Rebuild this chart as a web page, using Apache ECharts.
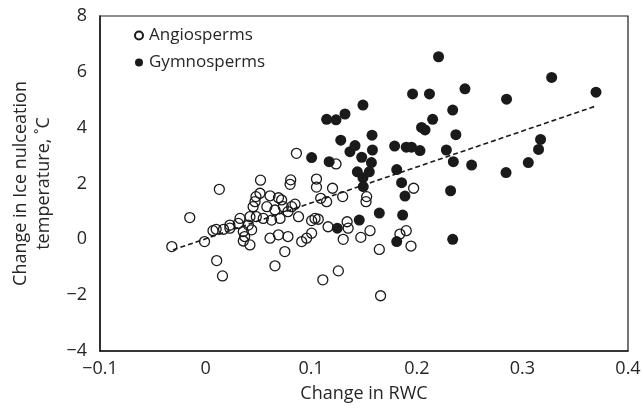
<!DOCTYPE html>
<html><head><meta charset="utf-8">
<script src="https://cdn.jsdelivr.net/npm/echarts@6/dist/echarts.min.js"></script>
<style>html,body{margin:0;padding:0;background:#fff}#c{width:643px;height:408px}</style>
</head><body><div id="c"></div>
<script>
const angioX = [-0.032,-0.015,0.013,0.0105,0.016,-0.001,0.007,0.010,0.017,0.023,
  0.052,0.0806,0.080,0.105,0.105,0.0515,0.0477,0.061,0.069,0.072,
  0.0468,0.045,0.058,0.0736,0.0815,0.0847,0.0657,0.078,0.088,0.0705,
  0.0625,0.0546,0.048,0.042,0.0326,0.031,0.0405,0.0436,0.0357,0.037,
  0.0357,0.042,0.061,0.069,0.078,0.091,0.0957,0.1004,0.075,0.0657,0.023,
  0.086,0.1235,0.1202,0.109,0.1146,0.1298,0.1525,0.1519,0.197,
  0.1036,0.1067,0.1004,0.116,0.134,0.135,0.1303,0.147,0.1557,0.111,
  0.1257,0.1657,0.1645,0.184,0.19,0.1945];
const angioY = [-0.26,0.78,1.79,-0.76,-1.31,-0.08,0.31,0.36,0.36,0.51,
  2.12,2.13,1.97,2.16,1.87,1.65,1.53,1.56,1.49,1.41,
  1.35,1.17,1.17,1.17,1.17,1.26,1.05,0.99,0.81,0.75,
  0.69,0.75,0.81,0.81,0.75,0.57,0.51,0.34,0.28,0.10,
  -0.06,-0.2,0.04,0.16,0.10,-0.08,0.04,0.22,-0.44,-0.95,0.40,
  3.08,2.70,1.83,1.47,1.35,1.53,1.53,1.35,1.83,
  0.75,0.72,0.67,0.45,0.63,0.40,0.0,0.07,0.31,-1.45,
  -1.13,-2.02,-0.36,0.19,0.31,-0.24];
const gymnoX = [0.1004,0.117,0.128,0.1367,0.1415,0.1478,0.158,0.157,0.1437,0.149,
  0.155,0.1493,0.179,0.19,0.195,0.203,0.181,0.1856,0.1888,0.1645,
  0.1866,0.1455,0.1247,0.181,0.2206,0.196,0.212,0.2456,0.149,0.1146,
  0.1235,0.132,0.234,0.215,0.2045,0.2078,0.1576,0.237,0.228,0.285,
  0.3277,0.3697,0.2346,0.2519,0.2845,0.3056,0.3172,0.3153,0.232,0.234];
const gymnoY = [2.93,2.78,3.55,3.14,3.36,2.94,3.2,2.75,2.42,2.21,
  2.42,1.89,3.34,3.3,3.3,3.18,2.5,2.03,1.55,0.94,
  0.87,0.69,0.40,-0.08,6.54,5.21,5.21,5.39,4.81,4.30,
  4.28,4.49,4.63,4.30,4.01,3.92,3.73,3.75,3.2,5.02,
  5.80,5.27,2.78,2.66,2.39,2.75,3.58,3.22,1.74,0.0];
const trendX = [-0.031, 0.37];
const trendY = [-0.38, 4.78];
const xTicks = ['−0.1','0','0.1','0.2','0.3','0.4'];

const FONT = 'Open Sans';
const TXT = '#262626';
const fmtNum = v => (Math.round(v*10)/10).toString().replace('-', '−');
const zip = (a,b) => a.map((v,i)=>[v,b[i]]);

const chart = echarts.init(document.getElementById('c'), null, {renderer:'canvas'});
chart.setOption({
  animation:false,
  textStyle:{fontFamily:FONT},
  grid:{left:100,right:15,top:16,bottom:57,outerBoundsMode:'none',containLabel:false,
        show:true,borderColor:'#1a1a1a',borderWidth:1.2,backgroundColor:'transparent'},
  legend:{
    orient:'vertical', left:129, top:22, itemGap:10, itemWidth:8, itemHeight:8,
    textStyle:{fontFamily:FONT,fontSize:17,color:TXT,padding:[0,0,0,1]},
    data:[{name:'Angiosperms',icon:'circle'},{name:'Gymnosperms',icon:'circle'}]
  },
  xAxis:{
    type:'value', min:-0.1, max:0.4, interval:0.1,
    name:'Change in RWC', nameLocation:'middle', nameGap:34,
    nameTextStyle:{fontFamily:FONT,fontSize:18,color:TXT},
    axisLine:{show:true,onZero:false,lineStyle:{color:'#1a1a1a',width:1.5}},
    axisTick:{show:false}, splitLine:{show:false},
    axisLabel:{fontFamily:FONT,fontSize:18,color:TXT,margin:9,formatter:(v,i)=>xTicks[i]}
  },
  yAxis:{
    type:'value', min:-4, max:8, interval:2,
    name:'Change in Ice nulceation\ntemperature, ˚C', nameLocation:'middle', nameGap:45, nameRotate:90,
    nameTextStyle:{fontFamily:FONT,fontSize:18,color:TXT,lineHeight:23},
    axisLine:{show:true,onZero:false,lineStyle:{color:'#1a1a1a',width:1.5}},
    axisTick:{show:false}, splitLine:{show:false},
    axisLabel:{fontFamily:FONT,fontSize:18,color:TXT,margin:13,formatter:v=>fmtNum(v)}
  },
  series:[
    {name:'Gymnosperms',type:'scatter',symbol:'circle',symbolSize:11,
     itemStyle:{color:'#1a1a1a',opacity:1},data:zip(gymnoX,gymnoY),z:3},
    {name:'Angiosperms',type:'scatter',symbol:'circle',symbolSize:10,
     itemStyle:{color:'rgba(255,255,255,0)',borderColor:'#1a1a1a',borderWidth:1.3,opacity:1},
     data:zip(angioX,angioY),z:4},
    {name:'trend',type:'line',data:zip(trendX,trendY),symbol:'none',silent:true,
     lineStyle:{color:'#1a1a1a',width:1.6,type:[5,3]},z:5}
  ]
});
</script></body></html>
